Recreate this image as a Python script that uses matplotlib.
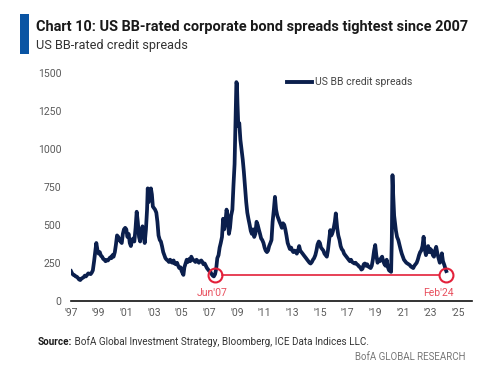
import matplotlib
matplotlib.use("Agg")
import matplotlib.pyplot as plt
from matplotlib.patches import Rectangle

# ---- data ----
dates = [
    1997.00, 1997.08, 1997.17, 1997.25, 1997.33, 1997.42, 1997.50, 1997.58, 1997.67, 1997.75, 1997.83, 1997.92,
    1998.00, 1998.08, 1998.17, 1998.25, 1998.33, 1998.42, 1998.50, 1998.58, 1998.67, 1998.75, 1998.83, 1998.92,
    1999.00, 1999.08, 1999.17, 1999.25, 1999.33, 1999.42, 1999.50, 1999.58, 1999.67, 1999.75, 1999.83, 1999.92,
    2000.00, 2000.08, 2000.17, 2000.25, 2000.33, 2000.42, 2000.50, 2000.58, 2000.67, 2000.75, 2000.83, 2000.92,
    2001.00, 2001.08, 2001.17, 2001.25, 2001.33, 2001.42, 2001.50, 2001.58, 2001.67, 2001.75, 2001.83, 2001.92,
    2002.00, 2002.08, 2002.17, 2002.25, 2002.33, 2002.42, 2002.50, 2002.55, 2002.62, 2002.70, 2002.78, 2002.85, 2002.92,
    2003.00, 2003.08, 2003.17, 2003.25, 2003.33, 2003.42, 2003.50, 2003.58, 2003.67, 2003.75, 2003.83, 2003.92,
    2004.00, 2004.08, 2004.17, 2004.25, 2004.33, 2004.42, 2004.50, 2004.58, 2004.67, 2004.75, 2004.83, 2004.92,
    2005.00, 2005.08, 2005.13, 2005.20, 2005.30, 2005.37, 2005.45, 2005.55, 2005.62, 2005.70, 2005.80, 2005.90,
    2006.00, 2006.08, 2006.17, 2006.25, 2006.33, 2006.42, 2006.50, 2006.58, 2006.67, 2006.75, 2006.83, 2006.92,
    2007.00, 2007.08, 2007.17, 2007.25, 2007.33, 2007.42, 2007.50, 2007.58, 2007.67, 2007.75, 2007.83, 2007.92,
    2008.00, 2008.08, 2008.17, 2008.25, 2008.33, 2008.42, 2008.50, 2008.58, 2008.67, 2008.75, 2008.83, 2008.90, 2008.96,
    2009.00, 2009.04, 2009.10, 2009.17, 2009.25, 2009.33, 2009.42, 2009.50, 2009.58, 2009.67, 2009.75, 2009.83, 2009.92,
    2010.00, 2010.08, 2010.17, 2010.25, 2010.33, 2010.42, 2010.50, 2010.58, 2010.67, 2010.75, 2010.83, 2010.92,
    2011.00, 2011.08, 2011.17, 2011.25, 2011.33, 2011.42, 2011.50, 2011.58, 2011.67, 2011.75, 2011.83, 2011.92,
    2012.00, 2012.08, 2012.17, 2012.25, 2012.33, 2012.42, 2012.50, 2012.58, 2012.67, 2012.75, 2012.83, 2012.92,
    2013.00, 2013.08, 2013.17, 2013.25, 2013.33, 2013.42, 2013.50, 2013.58, 2013.67, 2013.75, 2013.83, 2013.92,
    2014.00, 2014.08, 2014.17, 2014.25, 2014.33, 2014.42, 2014.50, 2014.58, 2014.67, 2014.75, 2014.83, 2014.92,
    2015.00, 2015.08, 2015.17, 2015.25, 2015.33, 2015.42, 2015.50, 2015.58, 2015.67, 2015.75, 2015.83, 2015.92,
    2016.00, 2016.08, 2016.15, 2016.25, 2016.33, 2016.42, 2016.50, 2016.58, 2016.67, 2016.75, 2016.83, 2016.92,
    2017.00, 2017.08, 2017.17, 2017.25, 2017.33, 2017.42, 2017.50, 2017.58, 2017.67, 2017.75, 2017.83, 2017.92,
    2018.00, 2018.08, 2018.17, 2018.25, 2018.33, 2018.42, 2018.50, 2018.58, 2018.67, 2018.75, 2018.83, 2018.92,
    2019.00, 2019.08, 2019.17, 2019.25, 2019.33, 2019.42, 2019.50, 2019.58, 2019.67, 2019.75, 2019.83, 2019.92,
    2020.00, 2020.08, 2020.15, 2020.20, 2020.25, 2020.30, 2020.37, 2020.42, 2020.50, 2020.58, 2020.67, 2020.75, 2020.83, 2020.92,
    2021.00, 2021.08, 2021.17, 2021.25, 2021.33, 2021.42, 2021.50, 2021.58, 2021.67, 2021.75, 2021.83, 2021.92,
    2022.00, 2022.08, 2022.17, 2022.25, 2022.33, 2022.42, 2022.50, 2022.58, 2022.67, 2022.75, 2022.83, 2022.92,
    2023.00, 2023.08, 2023.17, 2023.25, 2023.33, 2023.41, 2023.50, 2023.58, 2023.67, 2023.75, 2023.82, 2023.90,
    2024.00, 2024.08, 2024.14,
]
spreads = [
    195, 180, 170, 168, 160, 158, 150, 140, 136, 145, 150, 155,
    165, 160, 170, 180, 178, 175, 185, 200, 260, 320, 380, 330,
    310, 320, 295, 290, 275, 270, 260, 268, 265, 275, 285, 280,
    300, 290, 320, 370, 430, 420, 400, 390, 380, 440, 470, 480,
    470, 420, 440, 380, 360, 400, 410, 390, 480, 586, 520, 420,
    390, 440, 490, 450, 380, 470, 600, 740, 650, 700, 740, 700, 620,
    610, 600, 580, 520, 430, 400, 390, 360, 320, 300, 280, 270,
    265, 255, 270, 255, 250, 265, 245, 240, 250, 230, 215, 220,
    195, 180, 170, 220, 250, 270, 255, 275, 260, 290, 270, 265,
    255, 270, 260, 250, 260, 265, 255, 240, 245, 230, 215, 205,
    195, 190, 175, 165, 160, 175, 210, 280, 300, 350, 380, 420,
    540, 470, 520, 600, 560, 440, 480, 560, 600, 760, 900, 1200, 1440,
    1430, 1300, 1150, 1170, 1060, 1000, 930, 850, 760, 650, 580, 540, 500,
    460, 440, 470, 420, 440, 520, 500, 470, 440, 410, 400, 380,
    350, 330, 320, 330, 360, 380, 400, 520, 600, 684, 600, 560,
    540, 520, 500, 480, 510, 500, 470, 430, 380, 360, 340, 350,
    330, 320, 330, 325, 310, 330, 360, 330, 320, 310, 300, 290,
    280, 270, 260, 250, 245, 255, 270, 280, 300, 330, 370, 390,
    380, 350, 340, 330, 310, 300, 290, 330, 400, 465, 430, 450,
    480, 520, 575, 480, 430, 400, 360, 340, 330, 310, 300, 290,
    280, 270, 260, 270, 255, 250, 245, 250, 240, 235, 225, 220,
    205, 210, 240, 245, 230, 240, 225, 220, 215, 230, 270, 330,
    367, 300, 250, 270, 260, 280, 290, 260, 240, 230, 270, 220,
    200, 195, 190, 400, 827, 700, 560, 520, 460, 420, 400, 370, 340, 310,
    290, 270, 260, 250, 245, 240, 235, 225, 220, 215, 230, 240,
    250, 270, 300, 320, 330, 360, 421, 340, 300, 330, 360, 320,
    340, 330, 300, 290, 330, 355, 310, 280, 250, 270, 312, 260,
    235, 210, 195,
]
series_label = "US BB credit spreads"
tight_level = 172
annot_dates = [2007.42, 2024.15]
annot_labels = ["Jun'07", "Feb'24"]
label_dates = [2007.20, 2023.55]
yticks = [0, 250, 500, 750, 1000, 1250, 1500]
xtick_years = list(range(1997, 2026, 2))
xtick_labels = ["'" + str(y)[2:] for y in xtick_years]

title = "Chart 10: US BB-rated corporate bond spreads tightest since 2007"
subtitle = "US BB-rated credit spreads"
source_bold = "Source:"
source_rest = " BofA Global Investment Strategy, Bloomberg, ICE Data Indices LLC."
brand = "BofA GLOBAL RESEARCH"

NAVY = "#0b1f4d"
RED = "#e3203a"
GREY = "#5a5a5a"
FONT = "Roboto"

plt.rcParams["font.family"] = [FONT, "DejaVu Sans"]

W, H = 481, 368
fig = plt.figure(figsize=(W / 100, H / 100), dpi=100)
ax = fig.add_axes([71 / W, 1 - 300.7 / H, 401 / W, 227.7 / H])

ax.plot(dates, spreads, color=NAVY, lw=2.7, solid_joinstyle="round", label=series_label, zorder=3)

# tight level line between circle edges
ax.plot([annot_dates[0] + 0.52, annot_dates[1] - 0.52], [tight_level, tight_level], color=RED, lw=1.2, zorder=2)
ax.plot(annot_dates, [tight_level, tight_level], ls="none", marker="o", ms=10, mfc="none",
        mec=RED, mew=1.5, zorder=4)
for d, lab in zip(label_dates, annot_labels):
    ax.annotate(lab, (d, tight_level), xytext=(0, -10), textcoords="offset points",
                ha="center", va="top", color="#e8505e", fontsize=7.5)

ax.set_xlim(1997, 2026)
ax.set_ylim(0, 1500)
ax.set_yticks(yticks)
ax.set_xticks(xtick_years)
ax.set_xticklabels(xtick_labels)
for s in ["top", "right", "left"]:
    ax.spines[s].set_visible(False)
ax.spines["bottom"].set_color("#111111")
ax.spines["bottom"].set_linewidth(1.2)
ax.tick_params(axis="both", length=0, labelsize=7.5, labelcolor=GREY)
ax.tick_params(axis="y", pad=7)
ax.tick_params(axis="x", pad=5.5)

leg = ax.legend(loc="center left", bbox_to_anchor=((286.7 - 71) / 401, (300.7 - 82.3) / 227.7),
                frameon=False, fontsize=7.5, handlelength=2.4, handletextpad=0.3,
                borderpad=0, borderaxespad=0)
for line in leg.get_lines():
    line.set_linewidth(2.8)
for t in leg.get_texts():
    t.set_color("#444444")

# header
fig.add_artist(Rectangle((20 / W, 1 - 54 / H), 8.5 / W, 40 / H, transform=fig.transFigure,
                         color="#0a54a3", lw=0))
fig.text(36.5 / W, 1 - 27 / H, title, fontsize=10.45, fontweight="bold", color="#1a1a1a", va="center", ha="left")
fig.text(36.5 / W, 1 - 45.5 / H, subtitle, fontsize=9.2, color="#333333", va="center", ha="left")

# footer
t1 = fig.text(37.5 / W, 1 - 342 / H, source_bold, fontsize=7.1, fontweight="bold", color="#1a1a1a", va="center")
fig.canvas.draw()
bb = t1.get_window_extent()
fig.text(bb.x1 / W, 1 - 342 / H, source_rest, fontsize=7.1, color="#333333", va="center")
fig.text(466 / W, 1 - 356.5 / H, brand, fontsize=7.0, color="#777777", va="center", ha="right")

fig.savefig("out.png", dpi=100)
